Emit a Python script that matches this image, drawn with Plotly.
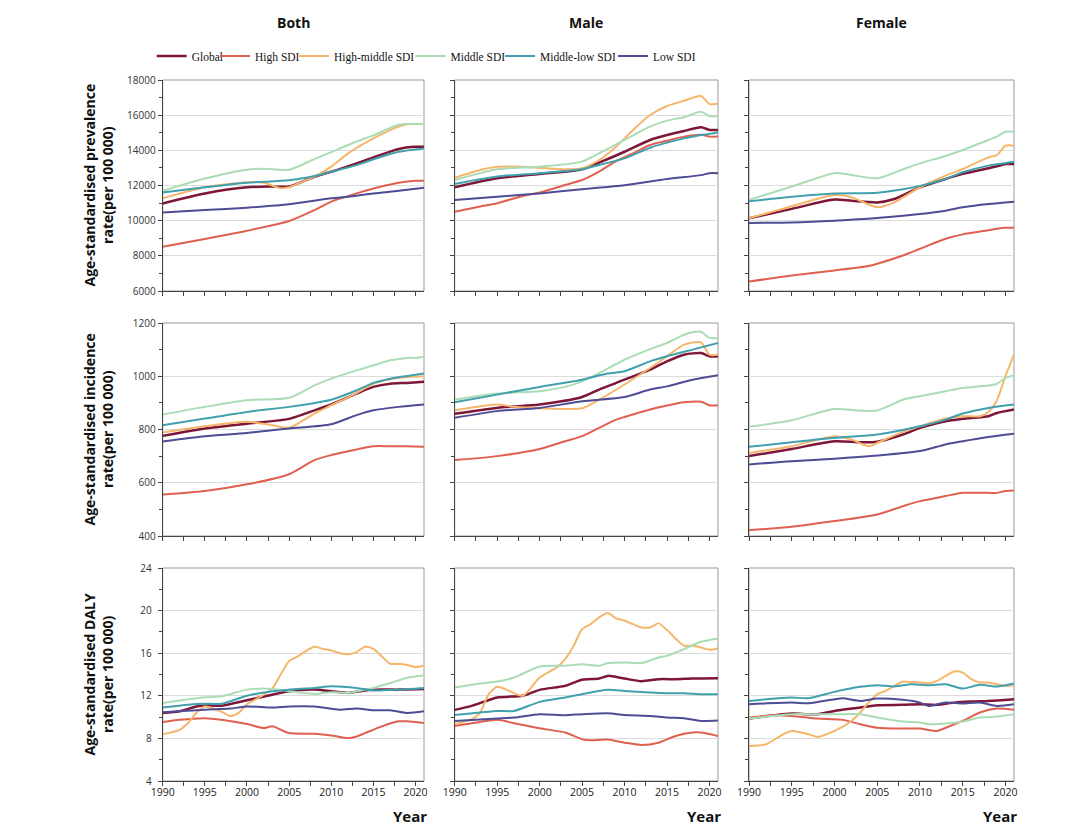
import plotly.graph_objects as go

W, H = 1070, 837
PAGE_OFFSET = 8  # the page body margin shifts the figure by this many pixels

SERIES = ["Global", "High SDI", "High-middle SDI", "Middle SDI", "Middle-low SDI", "Low SDI"]
COLORS = ["#7E1637", "#E0604F", "#F5B66C", "#AADCB5", "#40A0AE", "#4E4C95"]
WIDTHS = [2.5, 2.0, 2.0, 2.0, 2.0, 2.0]

COLUMNS = ["Both", "Male", "Female"]
ROW_TITLES = ["Age-standardised prevalence<br>rate(per 100 000)",
              "Age-standardised incidence<br>rate(per 100 000)",
              "Age-standardised DALY<br>rate(per 100 000)"]
X_TICKS = [1990, 1995, 2000, 2005, 2010, 2015, 2020]

# ---------- Prevalence ----------
prev_both = {
    "Global": [(1990, 10980), (1995, 11550), (2000, 11900), (2003, 11940), (2005, 11940), (2008, 12500), (2010, 12780), (2013, 13260), (2015, 13600), (2018, 14080), (2020, 14200), (2021, 14200)],
    "High SDI": [(1990, 8520), (1995, 8960), (2000, 9430), (2005, 9980), (2008, 10600), (2010, 11080), (2013, 11550), (2015, 11830), (2018, 12160), (2020, 12270), (2021, 12270)],
    "High-middle SDI": [(1990, 11270), (1995, 11900), (2000, 12180), (2002, 12160), (2004, 11840), (2005, 11900), (2006, 12100), (2008, 12500), (2010, 13070), (2012, 13830), (2015, 14680), (2018, 15350), (2019, 15480), (2021, 15480)],
    "Middle SDI": [(1990, 11700), (1995, 12400), (2000, 12900), (2002, 12950), (2005, 12900), (2008, 13500), (2010, 13900), (2013, 14500), (2015, 14850), (2018, 15450), (2021, 15500)],
    "Middle-low SDI": [(1990, 11600), (1995, 11900), (2000, 12160), (2005, 12300), (2008, 12540), (2010, 12780), (2013, 13160), (2015, 13490), (2018, 13920), (2021, 14110)],
    "Low SDI": [(1990, 10470), (1995, 10600), (2000, 10740), (2005, 10930), (2010, 11270), (2012, 11360), (2015, 11550), (2018, 11700), (2021, 11870)],
}
prev_male = {
    "Global": [(1990, 11900), (1995, 12410), (2000, 12650), (2005, 12920), (2007, 13300), (2010, 13920), (2013, 14590), (2015, 14870), (2017, 15100), (2019, 15310), (2020, 15160), (2021, 15160)],
    "High SDI": [(1990, 10510), (1993, 10800), (1995, 10990), (1998, 11400), (2000, 11600), (2003, 12030), (2005, 12310), (2007, 12790), (2009, 13390), (2011, 13830), (2013, 14300), (2015, 14550), (2017, 14780), (2019, 14890), (2020, 14780), (2021, 14780)],
    "High-middle SDI": [(1990, 12440), (1993, 12880), (1995, 13070), (1998, 13070), (2000, 13010), (2003, 12920), (2005, 12980), (2007, 13450), (2009, 14210), (2011, 15160), (2013, 16010), (2015, 16520), (2017, 16820), (2019, 17090), (2020, 16630), (2021, 16670)],
    "Middle SDI": [(1990, 12310), (1995, 12920), (2000, 13070), (2005, 13360), (2007, 13830), (2010, 14590), (2013, 15350), (2015, 15690), (2017, 15880), (2019, 16200), (2020, 15950), (2021, 15950)],
    "Middle-low SDI": [(1990, 12090), (1995, 12510), (2000, 12700), (2005, 12920), (2007, 13170), (2010, 13540), (2013, 14150), (2015, 14440), (2017, 14680), (2019, 14870), (2021, 15020)],
    "Low SDI": [(1990, 11170), (1995, 11360), (2000, 11550), (2005, 11790), (2010, 12020), (2015, 12370), (2019, 12590), (2020, 12700), (2021, 12700)],
}
prev_female = {
    "Global": [(1990, 10130), (1995, 10670), (2000, 11200), (2002, 11130), (2005, 11040), (2007, 11230), (2010, 11900), (2013, 12370), (2015, 12660), (2018, 12980), (2019, 13090), (2020, 13220), (2021, 13220)],
    "High SDI": [(1990, 6540), (1995, 6880), (2000, 7170), (2004, 7420), (2005, 7550), (2008, 8020), (2010, 8400), (2013, 8970), (2015, 9220), (2018, 9450), (2019, 9540), (2020, 9600), (2021, 9600)],
    "High-middle SDI": [(1990, 10130), (1995, 10820), (2000, 11460), (2002, 11330), (2005, 10760), (2007, 11040), (2010, 11900), (2013, 12560), (2015, 12940), (2018, 13600), (2019, 13730), (2020, 14260), (2021, 14260)],
    "Middle SDI": [(1990, 11180), (1995, 11940), (2000, 12700), (2002, 12600), (2005, 12410), (2008, 12920), (2010, 13260), (2013, 13680), (2015, 14020), (2018, 14590), (2019, 14780), (2020, 15060), (2021, 15060)],
    "Middle-low SDI": [(1990, 11100), (1995, 11360), (2000, 11550), (2005, 11590), (2008, 11790), (2010, 11980), (2013, 12370), (2015, 12750), (2018, 13130), (2020, 13280), (2021, 13350)],
    "Low SDI": [(1990, 9870), (1995, 9900), (2000, 10000), (2005, 10150), (2010, 10380), (2013, 10570), (2015, 10760), (2018, 10950), (2021, 11080)],
}

# ---------- Incidence ----------
inc_both = {
    "Global": [(1990, 776), (1995, 804), (2000, 822), (2005, 840), (2008, 872), (2010, 894), (2013, 935), (2015, 960), (2017, 972), (2019, 975), (2021, 979)],
    "High SDI": [(1990, 556), (1995, 569), (2000, 594), (2005, 632), (2008, 685), (2010, 704), (2013, 725), (2015, 737), (2017, 737), (2019, 737), (2021, 735)],
    "High-middle SDI": [(1990, 789), (1995, 812), (2000, 829), (2003, 816), (2005, 807), (2008, 860), (2010, 891), (2013, 937), (2015, 972), (2017, 989), (2019, 997), (2021, 1000)],
    "Middle SDI": [(1990, 856), (1995, 885), (2000, 910), (2005, 919), (2008, 966), (2010, 991), (2013, 1022), (2015, 1041), (2017, 1060), (2019, 1069), (2020, 1069), (2021, 1072)],
    "Middle-low SDI": [(1990, 816), (1995, 841), (2000, 866), (2005, 885), (2010, 912), (2013, 947), (2015, 975), (2017, 991), (2019, 1001), (2021, 1010)],
    "Low SDI": [(1990, 755), (1995, 775), (2000, 787), (2005, 804), (2010, 820), (2013, 854), (2015, 872), (2018, 885), (2021, 894)],
}
inc_male = {
    "Global": [(1990, 859), (1995, 881), (2000, 894), (2005, 922), (2007, 950), (2010, 987), (2013, 1025), (2015, 1056), (2017, 1081), (2019, 1087), (2020, 1075), (2021, 1075)],
    "High SDI": [(1990, 685), (1995, 700), (2000, 727), (2003, 756), (2005, 775), (2007, 806), (2009, 837), (2010, 847), (2013, 875), (2015, 890), (2017, 902), (2019, 904), (2020, 891), (2021, 891)],
    "High-middle SDI": [(1990, 872), (1995, 894), (1997, 885), (2000, 880), (2005, 880), (2007, 912), (2010, 969), (2013, 1031), (2015, 1075), (2017, 1119), (2019, 1127), (2020, 1081), (2021, 1081)],
    "Middle SDI": [(1990, 912), (1995, 935), (2000, 944), (2003, 960), (2005, 981), (2007, 1012), (2010, 1062), (2013, 1102), (2015, 1125), (2017, 1156), (2018, 1165), (2019, 1167), (2020, 1144), (2021, 1144)],
    "Middle-low SDI": [(1990, 902), (1995, 931), (2000, 960), (2005, 987), (2008, 1010), (2010, 1019), (2013, 1056), (2015, 1075), (2018, 1100), (2021, 1125)],
    "Low SDI": [(1990, 844), (1995, 869), (2000, 881), (2005, 906), (2010, 922), (2013, 950), (2015, 962), (2018, 987), (2021, 1004)],
}
inc_female = {
    "Global": [(1990, 700), (1995, 727), (2000, 756), (2003, 752), (2005, 754), (2008, 781), (2010, 806), (2013, 831), (2015, 840), (2018, 850), (2019, 862), (2021, 875)],
    "High SDI": [(1990, 422), (1995, 435), (2000, 456), (2005, 481), (2008, 512), (2010, 531), (2013, 550), (2015, 562), (2018, 562), (2019, 562), (2020, 569), (2021, 571)],
    "High-middle SDI": [(1990, 712), (1995, 737), (2000, 775), (2002, 762), (2004, 737), (2005, 750), (2008, 791), (2010, 812), (2013, 841), (2015, 850), (2017, 850), (2018, 866), (2019, 910), (2020, 1000), (2021, 1081)],
    "Middle SDI": [(1990, 810), (1995, 835), (2000, 877), (2003, 871), (2005, 871), (2008, 912), (2010, 925), (2013, 944), (2015, 956), (2018, 965), (2019, 972), (2020, 994), (2021, 1002)],
    "Middle-low SDI": [(1990, 735), (1995, 752), (2000, 769), (2005, 781), (2010, 812), (2013, 837), (2015, 860), (2018, 881), (2021, 894)],
    "Low SDI": [(1990, 669), (1995, 681), (2000, 690), (2005, 702), (2010, 719), (2013, 744), (2015, 756), (2018, 772), (2021, 784)],
}

# ---------- DALY ----------
daly_both = {
    "Global": [(1990, 10.38), (1992, 10.54), (1994, 11.0), (1995, 11.1), (1997, 11.07), (2000, 11.58), (2003, 12.1), (2005, 12.43), (2008, 12.58), (2010, 12.43), (2012, 12.27), (2014, 12.5), (2016, 12.58), (2018, 12.58), (2021, 12.65)],
    "High SDI": [(1990, 9.53), (1992, 9.75), (1995, 9.9), (1997, 9.75), (2000, 9.35), (2002, 8.97), (2003, 9.13), (2005, 8.5), (2008, 8.43), (2010, 8.28), (2012, 8.03), (2013, 8.18), (2014, 8.5), (2016, 9.13), (2018, 9.6), (2019, 9.6), (2021, 9.44)],
    "High-middle SDI": [(1990, 8.4), (1992, 8.8), (1993, 9.44), (1994, 10.4), (1995, 11.0), (1997, 10.5), (1998, 10.1), (1999, 10.4), (2000, 11.2), (2002, 12.1), (2003, 12.7), (2004, 14.0), (2005, 15.26), (2006, 15.7), (2007, 16.2), (2008, 16.6), (2009, 16.4), (2010, 16.26), (2011, 16.0), (2012, 15.9), (2013, 16.1), (2014, 16.6), (2015, 16.4), (2016, 15.7), (2017, 15.0), (2018, 15.0), (2019, 14.9), (2020, 14.7), (2021, 14.85)],
    "Middle SDI": [(1990, 11.33), (1995, 11.86), (1997, 11.96), (2000, 12.58), (2003, 12.65), (2005, 12.43), (2008, 12.18), (2010, 12.33), (2012, 12.27), (2014, 12.58), (2015, 12.74), (2017, 13.2), (2019, 13.7), (2021, 13.9)],
    "Middle-low SDI": [(1990, 10.9), (1993, 11.17), (1995, 11.26), (1997, 11.26), (2000, 12.0), (2003, 12.43), (2005, 12.58), (2008, 12.74), (2010, 12.9), (2013, 12.74), (2015, 12.5), (2018, 12.58), (2021, 12.74)],
    "Low SDI": [(1990, 10.45), (1995, 10.7), (1998, 10.8), (2000, 11.0), (2003, 10.9), (2005, 11.0), (2008, 11.0), (2011, 10.7), (2013, 10.8), (2015, 10.64), (2017, 10.64), (2019, 10.38), (2021, 10.54)],
}
daly_male = {
    "Global": [(1990, 10.68), (1992, 11.05), (1995, 11.84), (1998, 12.0), (2000, 12.56), (2003, 12.93), (2005, 13.5), (2007, 13.62), (2008, 13.87), (2010, 13.62), (2012, 13.37), (2014, 13.56), (2016, 13.56), (2018, 13.62), (2021, 13.65)],
    "High SDI": [(1990, 9.17), (1992, 9.42), (1995, 9.74), (1997, 9.42), (2000, 8.95), (2003, 8.55), (2005, 7.92), (2006, 7.82), (2008, 7.89), (2010, 7.6), (2012, 7.39), (2014, 7.6), (2016, 8.23), (2018, 8.55), (2019, 8.55), (2021, 8.23)],
    "High-middle SDI": [(1990, 9.33), (1992, 9.8), (1993, 10.43), (1994, 12.15), (1995, 12.84), (1996, 12.62), (1998, 12.0), (2000, 13.72), (2002, 14.66), (2003, 15.44), (2004, 16.7), (2005, 18.26), (2006, 18.73), (2007, 19.36), (2008, 19.77), (2009, 19.27), (2010, 19.05), (2011, 18.73), (2012, 18.42), (2013, 18.42), (2014, 18.8), (2015, 18.17), (2016, 17.39), (2017, 16.7), (2018, 16.7), (2019, 16.54), (2020, 16.32), (2021, 16.45)],
    "Middle SDI": [(1990, 12.78), (1993, 13.15), (1995, 13.34), (1997, 13.72), (2000, 14.75), (2003, 14.82), (2005, 14.97), (2007, 14.82), (2008, 15.07), (2010, 15.13), (2012, 15.07), (2014, 15.6), (2015, 15.76), (2017, 16.38), (2019, 17.07), (2021, 17.39)],
    "Middle-low SDI": [(1990, 10.2), (1993, 10.43), (1995, 10.58), (1997, 10.58), (2000, 11.43), (2003, 11.84), (2005, 12.15), (2008, 12.56), (2010, 12.46), (2013, 12.31), (2015, 12.24), (2017, 12.24), (2019, 12.15), (2021, 12.15)],
    "Low SDI": [(1990, 9.64), (1995, 9.86), (1997, 9.96), (2000, 10.27), (2003, 10.18), (2005, 10.27), (2008, 10.36), (2010, 10.2), (2013, 10.11), (2015, 9.96), (2017, 9.89), (2019, 9.64), (2021, 9.67)],
}
daly_female = {
    "Global": [(1990, 9.86), (1993, 10.18), (1995, 10.33), (1998, 10.27), (2000, 10.58), (2003, 10.9), (2005, 11.12), (2008, 11.15), (2010, 11.2), (2012, 11.15), (2014, 11.36), (2016, 11.46), (2018, 11.52), (2021, 11.68)],
    "High SDI": [(1990, 9.96), (1993, 10.18), (1995, 10.11), (1998, 9.86), (2001, 9.74), (2003, 9.33), (2005, 9.0), (2008, 8.92), (2010, 8.92), (2012, 8.7), (2013, 9.0), (2015, 9.64), (2017, 10.43), (2019, 10.8), (2021, 10.68)],
    "High-middle SDI": [(1990, 7.29), (1992, 7.45), (1994, 8.39), (1995, 8.7), (1997, 8.39), (1998, 8.14), (2000, 8.7), (2002, 9.64), (2003, 10.43), (2004, 11.37), (2005, 12.15), (2006, 12.46), (2007, 12.93), (2008, 13.31), (2010, 13.25), (2011, 13.18), (2012, 13.4), (2013, 13.87), (2014, 14.28), (2015, 14.18), (2016, 13.56), (2017, 13.25), (2018, 13.25), (2019, 13.09), (2020, 12.93), (2021, 13.0)],
    "Middle SDI": [(1990, 9.86), (1995, 10.27), (1998, 10.27), (2000, 10.27), (2003, 10.27), (2005, 9.96), (2008, 9.58), (2010, 9.49), (2011, 9.33), (2013, 9.39), (2015, 9.58), (2017, 9.96), (2019, 10.05), (2021, 10.27)],
    "Middle-low SDI": [(1990, 11.52), (1993, 11.74), (1995, 11.84), (1997, 11.77), (2000, 12.37), (2003, 12.84), (2005, 13.0), (2007, 12.87), (2009, 13.09), (2011, 13.0), (2013, 13.09), (2015, 12.68), (2017, 13.03), (2019, 12.87), (2021, 13.15)],
    "Low SDI": [(1990, 11.2), (1995, 11.36), (1997, 11.3), (2000, 11.68), (2001, 11.77), (2003, 11.52), (2005, 11.74), (2008, 11.62), (2010, 11.36), (2011, 11.05), (2013, 11.36), (2015, 11.27), (2017, 11.36), (2019, 11.05), (2021, 11.2)],
}

PANELS = [[prev_both, prev_male, prev_female],
          [inc_both, inc_male, inc_female],
          [daly_both, daly_male, daly_female]]
Y_RANGES = [(6000, 18000, 2000), (400, 1200, 200), (4, 24, 4)]

# ---------- layout geometry (target screen pixels) ----------
COL_X = [(162.7, 424.0), (454.7, 718.0), (749.0, 1014.0)]
ROW_Y = [(80.0, 291.0), (323.0, 536.0), (568.0, 781.0)]
LEGEND_TEXT_X = [188.7, 252.0, 331.0, 447.5, 537.0, 650.0]   # where each legend label starts
LEGEND_Y = 56


def px(x):
    return (x - PAGE_OFFSET) / W


def py(y):
    return 1 - (y - PAGE_OFFSET) / H


fig = go.Figure()
shapes = []
annotations = []
legend_ids = ["legend"] + ["legend%d" % (i + 1) for i in range(1, 6)]
for r in range(3):
    for c in range(3):
        k = r * 3 + c + 1
        sfx = "" if k == 1 else str(k)
        data = PANELS[r][c]
        for i, name in enumerate(SERIES):
            pts = data[name]
            fig.add_trace(go.Scatter(
                x=[p[0] for p in pts], y=[p[1] for p in pts],
                mode="lines", name=name,
                line=dict(color=COLORS[i], width=WIDTHS[i], shape="spline", smoothing=0.7),
                xaxis="x" + sfx, yaxis="y" + sfx,
                showlegend=(k == 1), legendgroup=name, legend=legend_ids[i],
            ))
        x0, x1 = COL_X[c]
        y0, y1 = ROW_Y[r]
        lo, hi, dt = Y_RANGES[r]
        fig.layout["xaxis" + sfx] = dict(
            domain=[px(x0), px(x1)], anchor="y" + sfx, range=[1990, 2021],
            tickmode="array", tickvals=X_TICKS, showticklabels=(r == 2),
            ticks="outside", ticklen=4, tickcolor="#444", ticklabelstandoff=-3,
            minor=dict(dtick=2.5, tick0=1990, ticks="outside", ticklen=4, tickcolor="#444", showgrid=False),
            showgrid=False, zeroline=False, showline=True, linecolor="#444", linewidth=1,
            tickfont=dict(family="Open Sans", size=10.5, color="#222"),
            automargin=False, fixedrange=True,
        )
        fig.layout["yaxis" + sfx] = dict(
            domain=[py(y1), py(y0)], anchor="x" + sfx, range=[lo, hi],
            tick0=lo, dtick=dt, tickformat="d", showticklabels=(c == 0),
            ticks="outside", ticklen=4, tickcolor="#444", ticklabelstandoff=(4 if r == 2 else 0),
            minor=dict(dtick=dt / 2, ticks="outside", ticklen=3, tickcolor="#444", showgrid=False),
            showgrid=True, gridcolor="#dcdcdc", gridwidth=1, zeroline=False,
            showline=True, linecolor="#444", linewidth=1,
            tickfont=dict(family="Open Sans", size=10, color="#333"),
            automargin=False, fixedrange=True,
        )
        shapes.append(dict(type="rect", xref="x" + sfx + " domain", yref="y" + sfx + " domain",
                           x0=0, x1=1, y0=0, y1=1, line=dict(color="#9a9a9a", width=1), layer="below"))

for c, t in enumerate(COLUMNS):
    x0, x1 = COL_X[c]
    annotations.append(dict(text="<b>%s</b>" % t, x=px((x0 + x1) / 2), y=py(22), xref="paper", yref="paper",
                            showarrow=False, font=dict(family="Open Sans", size=14, color="#111"),
                            xanchor="center", yanchor="middle"))
    annotations.append(dict(text="<b>Year</b>", x=px(x1 - 14), y=py(816), xref="paper", yref="paper",
                            showarrow=False, font=dict(family="Open Sans", size=15, color="#111"),
                            xanchor="center", yanchor="middle"))
for r, t in enumerate(ROW_TITLES):
    y0, y1 = ROW_Y[r]
    annotations.append(dict(text="<b>%s</b>" % t, x=px(98), y=py((y0 + y1) / 2), xref="paper", yref="paper",
                            showarrow=False, textangle=-90, font=dict(family="Open Sans", size=14, color="#111"),
                            xanchor="center", yanchor="middle"))

legend_layout = {}
for i, lid in enumerate(legend_ids):
    legend_layout[lid] = dict(orientation="h", x=px(LEGEND_TEXT_X[i] - 37), y=py(LEGEND_Y),
                              xanchor="left", yanchor="middle", borderwidth=0,
                              font=dict(family="Liberation Serif", size=11.5, color="#111"),
                              itemwidth=30, bgcolor="rgba(0,0,0,0)")

fig.update_layout(
    width=W, height=H, margin=dict(l=0, r=0, t=0, b=0, autoexpand=False),
    paper_bgcolor="white", plot_bgcolor="white",
    shapes=shapes, annotations=annotations,
    **legend_layout,
)

fig.write_html("out.html")
